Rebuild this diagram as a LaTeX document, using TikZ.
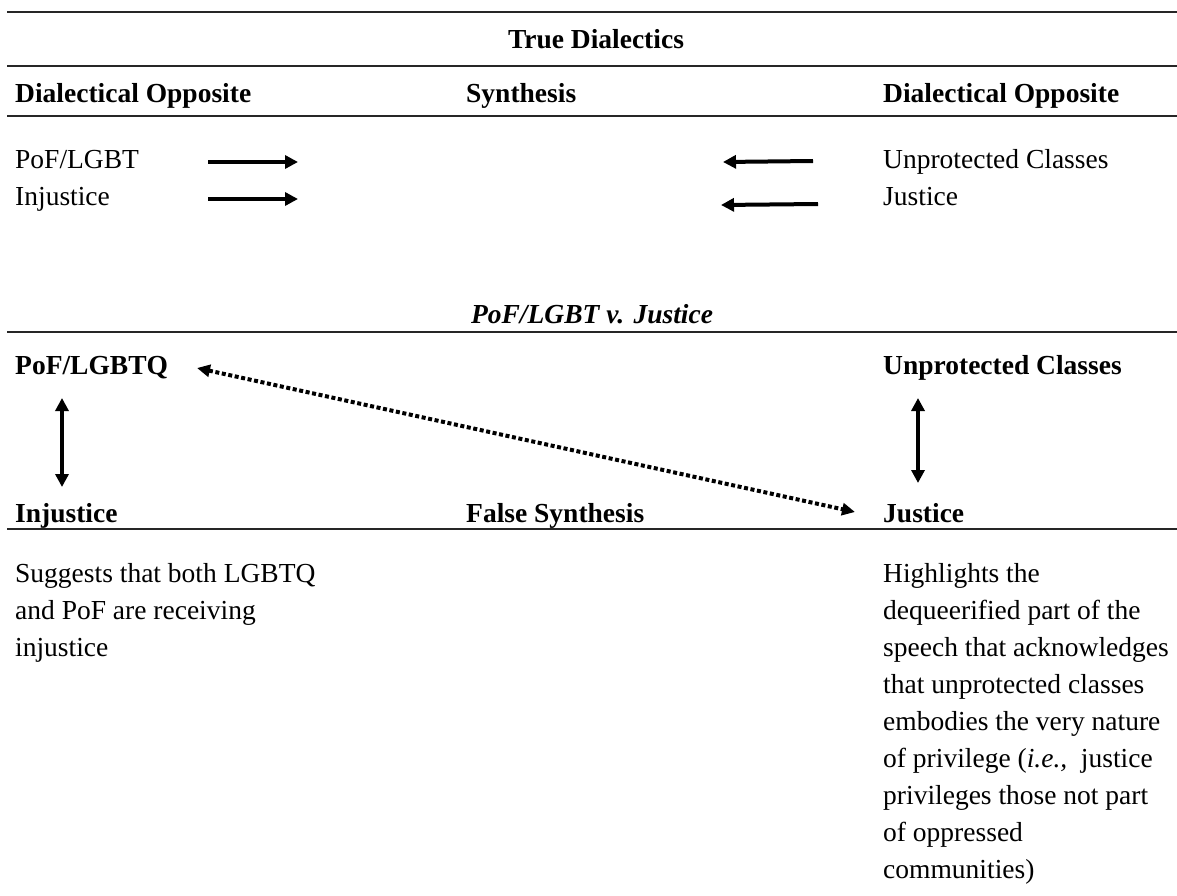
\documentclass[tikz,border=0pt]{standalone}
\usepackage{fontspec}
\setmainfont{Liberation Serif}
\usetikzlibrary{arrows.meta}
\begin{document}
\begin{tikzpicture}[x=1pt,y=-1pt,
  txt/.style={anchor=base west, inner sep=0pt, font=\fontsize{27.5}{37}\selectfont},
  hd/.style={anchor=base west, inner sep=0pt, font=\fontsize{27.5}{37}\selectfont\bfseries},
  ctitle/.style={anchor=base, inner sep=0pt, font=\fontsize{27.5}{37}\selectfont\bfseries},
  para/.style={anchor=north west, inner sep=0pt, align=left, font=\fontsize{27.5}{37}\selectfont},
  rulel/.style={line width=2.6pt, black!85},
  sarrow/.style={line width=4pt, -{Triangle[length=13pt,width=13pt]}},
  darrow/.style={line width=4pt, {Triangle[length=13pt,width=13pt]}-{Triangle[length=13pt,width=13pt]}},
  dotarrow/.style={line width=4pt, dash pattern=on 4pt off 2.6pt, {Triangle[length=13pt,width=12pt]}-{Triangle[length=13pt,width=12pt]}}
]
\useasboundingbox[fill=white] (0,0) rectangle (1177,896);

% rules
\draw[rulel] (7,12) -- (1177,12);
\draw[rulel] (7,66) -- (1177,66);
\draw[rulel] (7,116) -- (1177,116);
\draw[rulel] (7,332) -- (1177,332);
\draw[rulel] (7,529) -- (1177,529);

% table 1
\node[ctitle] (t1) at (596,49) {True Dialectics};
\node[hd] (h1) at (15,103) {Dialectical Opposite};
\node[hd] (h2) at (466,103) {Synthesis};
\node[hd] (h3) at (883,103) {Dialectical Opposite};

\node[txt] (pof) at (15,169) {PoF/LGBT};
\node[txt] (inj) at (15,205) {Injustice};
\node[txt] (unp) at (883,169) {Unprotected Classes};
\node[txt] (jst) at (883,205) {Justice};

\coordinate (a1s) at (208,162);
\coordinate (a1e) at (298,162);
\coordinate (a2s) at (208,199);
\coordinate (a2e) at (298,199);
\coordinate (a3s) at (813,161);
\coordinate (a3e) at (723,162);
\coordinate (a4s) at (818,204);
\coordinate (a4e) at (721,205);
\draw[sarrow] (a1s) -- (a1e);
\draw[sarrow] (a2s) -- (a2e);
\draw[sarrow] (a3s) -- (a3e);
\draw[sarrow] (a4s) -- (a4e);

% table 2
\node[ctitle, font=\fontsize{27.5}{37}\selectfont\bfseries\itshape] (t2) at (592,323) {PoF/LGBT v. Justice};
\node[hd] (pq) at (15,374) {PoF/LGBTQ};
\node[hd] (uc) at (883,374) {Unprotected Classes};
\node[hd] (ij) at (15,522) {Injustice};
\node[hd] (fs) at (466,522) {False Synthesis};
\node[hd] (js) at (883,522) {Justice};

\coordinate (v1t) at (62,398);
\coordinate (v1b) at (62,487);
\coordinate (v2t) at (918,398);
\coordinate (v2b) at (918,483);
\draw[darrow] (v1t) -- (v1b);
\draw[darrow] (v2t) -- (v2b);

\coordinate (d1) at (197,368);
\coordinate (d2) at (855,512);
\draw[dotarrow] (d1) -- (d2);

\node[para] (lp) at (15,563) {Suggests that both LGBTQ\\and PoF are receiving\\injustice};
\node[para] (rp) at (883,563) {Highlights the\\dequeerified part of the\\speech that acknowledges\\that unprotected classes\\embodies the very nature\\of privilege (\textit{i.e.,}\ \ justice\\privileges those not part\\of oppressed\\communities)};
\end{tikzpicture}
\end{document}
